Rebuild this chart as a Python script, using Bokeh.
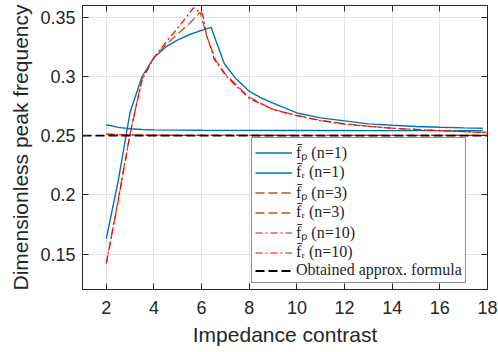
from bokeh.plotting import figure
from bokeh.models import (Range1d, FixedTicker, LinearAxis, NumeralTickFormatter,
                          CustomJSTickFormatter, Legend, LegendItem)
from bokeh.embed import file_html
from bokeh.resources import INLINE

# ---- data ----
x_tick_values = [2, 4, 6, 8, 10, 12, 14, 16, 18]
y_tick_values = [0.15, 0.2, 0.25, 0.3, 0.35]

x_fp1 = [2, 2.5, 3, 3.5, 4, 4.5, 5, 5.5, 6, 6.4, 6.95, 7.4, 8, 8.5, 9, 10, 11, 12, 13, 14, 15, 16, 17, 17.8]
y_fp1 = [0.163, 0.212, 0.270, 0.300, 0.316, 0.325, 0.331, 0.3355, 0.339, 0.3415, 0.311, 0.299, 0.2875,
         0.282, 0.2775, 0.2692, 0.2650, 0.2625, 0.2600, 0.2588, 0.2578, 0.2571, 0.2566, 0.2563]

x_fr1 = [2, 2.5, 3, 3.5, 4, 5, 6, 8, 10, 14, 17.8]
y_fr1 = [0.2592, 0.2570, 0.2558, 0.2552, 0.2549, 0.2547, 0.2546, 0.2545, 0.2544, 0.2543, 0.2543]

x_fp3 = [2, 2.5, 3, 3.5, 4, 4.5, 5, 5.5, 5.94, 6.2, 6.6, 7, 7.5, 8, 9, 10, 11, 12, 13, 14, 15, 16, 17, 18]
y_fp3 = [0.142, 0.196, 0.252, 0.298, 0.316, 0.327, 0.336, 0.345, 0.3543, 0.335, 0.3135, 0.302, 0.292,
         0.2825, 0.2722, 0.2672, 0.2628, 0.2600, 0.2580, 0.2563, 0.2553, 0.2543, 0.2535, 0.2527]

x_fr3 = [2, 2.5, 3, 4, 6, 10, 14, 18]
y_fr3 = [0.2515, 0.2510, 0.2507, 0.2505, 0.2504, 0.2503, 0.2503, 0.2502]

x_fp10 = [2, 2.5, 3, 3.5, 4, 4.5, 5, 5.66, 6.04, 6.2, 6.53, 7, 7.5, 8, 9, 10, 11, 12, 13, 14, 15, 16, 17, 18]
y_fp10 = [0.142, 0.195, 0.252, 0.297, 0.316, 0.329, 0.341, 0.358, 0.353, 0.336, 0.3145, 0.301, 0.291,
          0.2815, 0.2720, 0.2670, 0.2626, 0.2598, 0.2578, 0.2562, 0.2552, 0.2542, 0.2534, 0.2526]

x_fr10 = [2, 2.5, 3, 4, 6, 10, 14, 18]
y_fr10 = [0.2512, 0.2508, 0.2506, 0.2504, 0.2503, 0.2503, 0.2502, 0.2502]

x_approx = [1, 18]
y_approx = [0.25, 0.25]

labels = ["f\u0304\u209a (n=1)", "f\u0304\u1d63 (n=1)", "f\u0304\u209a (n=3)", "f\u0304\u1d63 (n=3)",
          "f\u0304\u209a (n=10)", "f\u0304\u1d63 (n=10)", "Obtained approx. formula"]

# ---- figure ----
AX = "#262626"
SANS = "Liberation Sans"

p = figure(width=498, height=352, output_backend="svg", toolbar_location=None,
           x_range=Range1d(1, 18), y_range=Range1d(0.12, 0.36),
           min_border_left=82, min_border_right=11, min_border_top=5, min_border_bottom=63)
p.outline_line_color = AX
p.background_fill_color = "white"

BLUE = "#0072BD"
BROWN = "#C4541C"
RED = "#FF0000"

r1 = p.line(x_fp1, y_fp1, line_color=BLUE, line_width=1.4)
r2 = p.line(x_fr1, y_fr1, line_color=BLUE, line_width=1.4)
r3 = p.line(x_fp3, y_fp3, line_color=BROWN, line_width=1.3, line_dash="9 4")
r4 = p.line(x_fr3, y_fr3, line_color=BROWN, line_width=1.3, line_dash="9 4")
r5 = p.line(x_fp10, y_fp10, line_color=RED, line_width=1.2, line_dash="7 3 2 3")
r6 = p.line(x_fr10, y_fr10, line_color=RED, line_width=1.2, line_dash="7 3 2 3")
r7 = p.line(x_approx, y_approx, line_color="black", line_width=1.8, line_dash="9 4")

# axes
xt = FixedTicker(ticks=x_tick_values)
yt = FixedTicker(ticks=y_tick_values)
p.xaxis.ticker = xt
p.yaxis.ticker = yt
p.yaxis.formatter = NumeralTickFormatter(format="0.[00]")
for ax in (p.xaxis[0], p.yaxis[0]):
    ax.major_tick_in = 6
    ax.major_tick_out = 0
    ax.minor_tick_line_color = None
    ax.axis_line_color = AX
    ax.major_tick_line_color = AX
    ax.major_label_text_font = SANS
    ax.major_label_text_font_size = "18px"
    ax.major_label_text_color = AX
    ax.axis_label_text_font = SANS
    ax.axis_label_text_font_size = "21px"
    ax.axis_label_text_font_style = "normal"
    ax.axis_label_text_color = AX
p.xaxis.axis_label = "Impedance contrast"
p.yaxis.axis_label = "Dimensionless peak frequency"
p.xaxis.major_label_standoff = 11
p.xaxis.axis_label_standoff = 6
p.yaxis.major_label_standoff = 7
p.yaxis.axis_label_standoff = 5

blank = CustomJSTickFormatter(code="return ''")
top = LinearAxis(ticker=xt, formatter=blank, major_tick_in=6, major_tick_out=0,
                 minor_tick_line_color=None, axis_line_color=AX, major_tick_line_color=AX,
                 major_label_standoff=0, major_label_text_font_size="1px")
right = LinearAxis(ticker=yt, formatter=blank, major_tick_in=6, major_tick_out=0,
                   minor_tick_line_color=None, axis_line_color=AX, major_tick_line_color=AX,
                   major_label_standoff=0, major_label_text_font_size="1px")
p.add_layout(top, "above")
p.add_layout(right, "right")

p.xgrid.ticker = xt
p.ygrid.ticker = yt
p.xgrid.grid_line_color = "#E3E3E3"
p.ygrid.grid_line_color = "#E3E3E3"

legend = Legend(items=[LegendItem(label=l, renderers=[r]) for l, r in
                       zip(labels, [r1, r2, r3, r4, r5, r6, r7])],
                location=(169, 6), orientation="vertical")
legend.label_text_font = "Liberation Serif"
legend.label_text_font_size = "16px"
legend.label_text_line_height = 1.0
legend.label_text_color = AX
legend.glyph_width = 37
legend.glyph_height = 15
legend.label_height = 15
legend.spacing = -2
legend.padding = 3
legend.margin = 0
legend.label_standoff = 4
legend.border_line_color = AX
legend.border_line_width = 1
legend.background_fill_alpha = 1
p.add_layout(legend, "center")

open("out.html", "w").write(file_html(p, INLINE))
